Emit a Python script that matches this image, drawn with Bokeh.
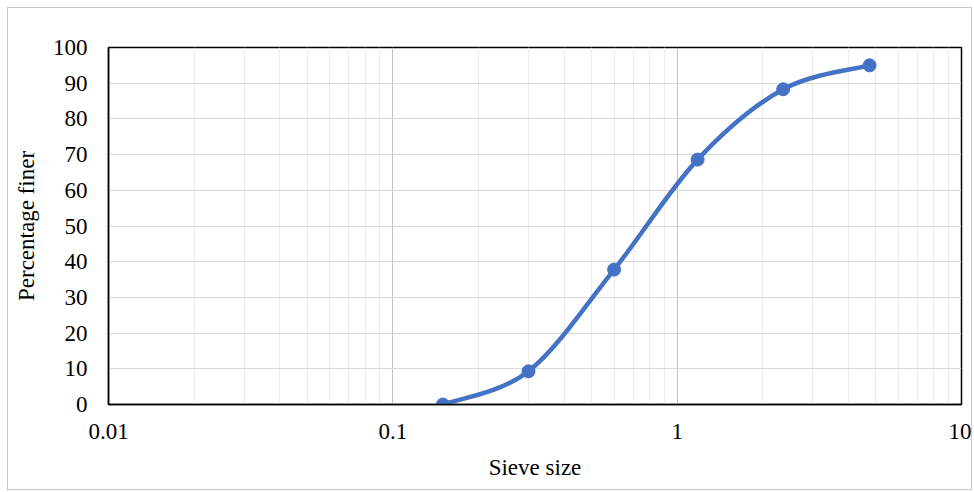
import numpy as np
from bokeh.plotting import figure
from bokeh.models import FixedTicker, Range1d
from bokeh.embed import file_html
from bokeh.resources import INLINE

# Data
sieve_size = [0.15, 0.3, 0.6, 1.18, 2.36, 4.75]
percent_finer = [0.0, 9.3, 37.8, 68.6, 88.3, 95.0]
x_ticks = [0.01, 0.1, 1, 10]
x_tick_labels = ["0.01", "0.1", "1", "10"]
y_ticks = [0, 10, 20, 30, 40, 50, 60, 70, 80, 90, 100]

FONT = "Liberation Serif"
BLUE = "#4472C4"

p = figure(width=965, height=483, x_axis_type="log",
           x_range=Range1d(0.01, 10), y_range=Range1d(0, 100),
           output_backend="svg", toolbar_location=None,
           min_border_left=100, min_border_right=12,
           min_border_top=39, min_border_bottom=87)
p.styles = {"border": "1px solid #c6c6c6", "margin-left": "7px", "margin-top": "7px"}

p.outline_line_color = "black"
p.outline_line_width = 1.5

# minor ticks at 2..9 of each decade
minor = [m * d for d in x_ticks[:-1] for m in range(2, 10)]
p.xaxis.ticker = FixedTicker(ticks=x_ticks, minor_ticks=minor)
p.xaxis.major_label_overrides = {t: l for t, l in zip(x_ticks, x_tick_labels)}
p.yaxis.ticker = FixedTicker(ticks=y_ticks)

for ax in (p.xaxis[0], p.yaxis[0]):
    ax.major_tick_line_color = None
    ax.minor_tick_line_color = None
    ax.axis_line_color = "black"
    ax.axis_line_width = 1.5
    ax.major_label_text_font = FONT
    ax.major_label_text_font_size = "23px"
    ax.major_label_text_color = "black"
    ax.axis_label_text_font = FONT
    ax.axis_label_text_font_size = "23px"
    ax.axis_label_text_font_style = "normal"
    ax.axis_label_text_color = "black"

p.xaxis.axis_label = "Sieve size"
p.yaxis.axis_label = "Percentage finer"
p.xaxis.major_label_standoff = 13
p.yaxis.major_label_standoff = 15
p.xaxis.axis_label_standoff = 13
p.yaxis.axis_label_standoff = 11

p.xgrid.grid_line_color = "#c0c0c0"
p.xgrid.grid_line_width = 1
p.xgrid.minor_grid_line_color = "#ececec"
p.xgrid.minor_grid_line_width = 1
p.ygrid.grid_line_color = "#d9d9d9"
p.ygrid.grid_line_width = 1

# Smoothed line (Catmull-Rom -> cubic Bezier in log-x space)
lx = np.log10(sieve_size)
yy = np.array(percent_finer)
n = len(lx)
x0, y0, x1, y1, cx0, cy0, cx1, cy1 = [], [], [], [], [], [], [], []
for i in range(n - 1):
    im1 = max(i - 1, 0)
    ip2 = min(i + 2, n - 1)
    c1x = lx[i] + (lx[i + 1] - lx[im1]) / 6
    c1y = yy[i] + (yy[i + 1] - yy[im1]) / 6
    c2x = lx[i + 1] - (lx[ip2] - lx[i]) / 6
    c2y = yy[i + 1] - (yy[ip2] - yy[i]) / 6
    x0.append(sieve_size[i]); y0.append(yy[i])
    x1.append(sieve_size[i + 1]); y1.append(yy[i + 1])
    cx0.append(10 ** c1x); cy0.append(c1y)
    cx1.append(10 ** c2x); cy1.append(c2y)

p.bezier(x0=x0, y0=y0, x1=x1, y1=y1, cx0=cx0, cy0=cy0, cx1=cx1, cy1=cy1,
         line_color=BLUE, line_width=4.5, line_cap="round")
p.scatter(sieve_size, percent_finer, size=13, fill_color=BLUE, line_color=BLUE)

open("out.html", "w").write(file_html(p, INLINE))
